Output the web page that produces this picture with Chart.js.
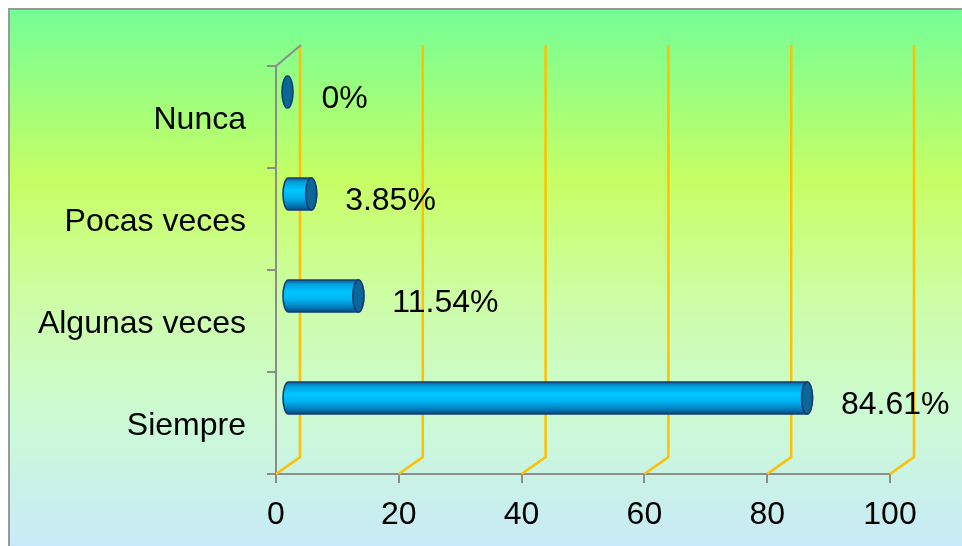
<!DOCTYPE html>
<html>
<head>
<meta charset="utf-8">
<script src="https://cdn.jsdelivr.net/npm/chart.js@4.4.1/dist/chart.umd.min.js"></script>
<style>
html,body{margin:0;padding:0;background:#fff;}
canvas{display:block;}
</style>
</head>
<body>
<canvas id="c" width="962" height="546"></canvas>
<script>
const categories = ['Nunca', 'Pocas veces', 'Algunas veces', 'Siempre'];
const values = [0, 3.85, 11.54, 84.61];
const xTicks = [0, 20, 40, 60, 80, 100];

const FONT = "'Liberation Sans', Arial, sans-serif";
const DEPTH_X = 24, DEPTH_Y_BOTTOM = 17, DEPTH_Y_TOP = 21;
const BAR_SHIFT_X = 11.5, BAR_SHIFT_Y = -25, BAR_RX = 5.5, BAR_RY = 16;

const bgPlugin = {
  id: 'bg',
  beforeDraw(chart) {
    const ctx = chart.ctx, w = chart.width, h = chart.height;
    ctx.save();
    ctx.fillStyle = '#ffffff';
    ctx.fillRect(0, 0, w, h);
    const g = ctx.createLinearGradient(0, 9, 0, h);
    g.addColorStop(0, '#74fe96');
    g.addColorStop(0.32, '#c7fe64');
    g.addColorStop(0.55, '#cdfda8');
    g.addColorStop(0.76, '#cbfad4');
    g.addColorStop(1, '#c8eaf8');
    ctx.fillStyle = g;
    ctx.fillRect(9, 9, w - 9, h - 9);
    ctx.strokeStyle = '#999999';
    ctx.lineWidth = 2;
    ctx.beginPath();
    ctx.moveTo(9, h);
    ctx.lineTo(9, 9);
    ctx.lineTo(w, 9);
    ctx.stroke();
    ctx.restore();
  }
};

const gridPlugin = {
  id: 'grid3d',
  beforeDatasetsDraw(chart) {
    const ctx = chart.ctx, xs = chart.scales.x, ca = chart.chartArea;
    ctx.save();
    ctx.strokeStyle = '#ffc000';
    ctx.lineWidth = 2.5;
    xTicks.forEach(v => {
      const x = xs.getPixelForValue(v);
      ctx.beginPath();
      ctx.moveTo(x, ca.bottom);
      ctx.lineTo(x + DEPTH_X, ca.bottom - DEPTH_Y_BOTTOM);
      ctx.lineTo(x + DEPTH_X, ca.top - DEPTH_Y_TOP);
      ctx.stroke();
    });
    ctx.strokeStyle = '#8c8c8c';
    ctx.lineWidth = 2;
    ctx.beginPath();
    ctx.moveTo(ca.left, ca.top);
    ctx.lineTo(ca.left + DEPTH_X + 1, ca.top - DEPTH_Y_TOP);
    ctx.stroke();
    ctx.restore();
  }
};

const cylPlugin = {
  id: 'cyl',
  afterDatasetsDraw(chart) {
    const ctx = chart.ctx;
    const meta = chart.getDatasetMeta(0);
    ctx.save();
    meta.data.forEach((el, i) => {
      const p = el.getProps(['x', 'y', 'base'], true);
      const x0 = p.base + BAR_SHIFT_X;
      const x1 = p.x + BAR_SHIFT_X;
      const cy = p.y + BAR_SHIFT_Y;
      const rx = BAR_RX, ry = BAR_RY;
      if (x1 - x0 > 0.5) {
        const g = ctx.createLinearGradient(0, cy - ry, 0, cy + ry);
        g.addColorStop(0, '#0a5f98');
        g.addColorStop(0.14, '#00a2e0');
        g.addColorStop(0.38, '#00c6ff');
        g.addColorStop(0.62, '#00b2f0');
        g.addColorStop(0.84, '#007fbc');
        g.addColorStop(1, '#0a4a80');
        ctx.beginPath();
        ctx.moveTo(x1, cy - ry);
        ctx.lineTo(x0, cy - ry);
        ctx.ellipse(x0, cy, rx, ry, 0, -Math.PI / 2, Math.PI / 2, true);
        ctx.lineTo(x1, cy + ry);
        ctx.ellipse(x1, cy, rx, ry, 0, Math.PI / 2, -Math.PI / 2, true);
        ctx.closePath();
        ctx.fillStyle = g;
        ctx.fill();
        ctx.strokeStyle = '#163c75';
        ctx.lineWidth = 1.6;
        ctx.stroke();
      }
      ctx.beginPath();
      ctx.ellipse(x1, cy, rx, ry, 0, 0, Math.PI * 2);
      ctx.fillStyle = '#0b6797';
      ctx.fill();
      ctx.strokeStyle = '#163c75';
      ctx.lineWidth = 1.6;
      ctx.stroke();

      ctx.fillStyle = '#000';
      ctx.font = '32px ' + FONT;
      ctx.textAlign = 'left';
      ctx.textBaseline = 'middle';
      ctx.fillText(values[i] + '%', x1 + 34, cy + 7);
    });
    ctx.restore();
  }
};

new Chart(document.getElementById('c'), {
  type: 'bar',
  data: {
    labels: categories,
    datasets: [{
      data: values,
      backgroundColor: 'rgba(0,0,0,0)',
      borderWidth: 0,
      barThickness: 32
    }]
  },
  options: {
    indexAxis: 'y',
    responsive: false,
    devicePixelRatio: 1,
    animation: false,
    layout: { padding: { top: 66, right: 72, left: 0, bottom: 0 } },
    plugins: { legend: { display: false }, tooltip: { enabled: false } },
    scales: {
      x: {
        min: 0, max: 100,
        afterBuildTicks(scale) { scale.ticks = xTicks.map(v => ({ value: v })); },
        afterFit(scale) { scale.height = 72; },
        grid: { drawOnChartArea: false, drawTicks: true, tickLength: 9, color: '#8c8c8c', lineWidth: 2 },
        border: { display: true, color: '#8c8c8c', width: 2 },
        ticks: { color: '#000', font: { family: FONT, size: 32 }, padding: 13, maxRotation: 0 }
      },
      y: {
        afterFit(scale) { scale.width = 276; },
        grid: { drawOnChartArea: false, drawTicks: true, tickLength: 9, color: '#8c8c8c', lineWidth: 2, offset: true },
        border: { display: true, color: '#8c8c8c', width: 2 },
        ticks: { color: '#000', font: { family: FONT, size: 32 }, padding: 21, autoSkip: false, labelOffset: 3 }
      }
    }
  },
  plugins: [bgPlugin, gridPlugin, cylPlugin]
});
</script>
</body>
</html>
